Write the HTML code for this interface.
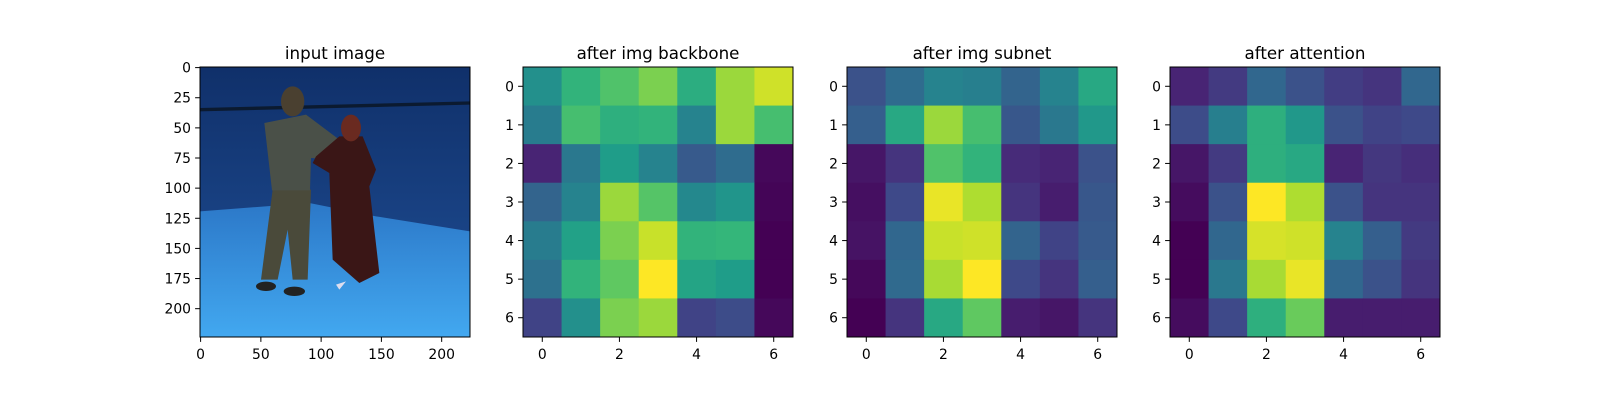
<!DOCTYPE html>
<html><head><meta charset="utf-8"><style>
body{margin:0;background:#fff;}
svg text{font-family:"DejaVu Sans","Liberation Sans",sans-serif;fill:#000;}
</style></head><body>
<svg id="fig" width="1600" height="400" viewBox="0 0 1600 400" xmlns="http://www.w3.org/2000/svg">
<rect width="1600" height="400" fill="#fff"/>
<g id="p1">
  <text x="335" y="59" font-size="16.7" text-anchor="middle">input image</text>
  <svg x="200" y="67" width="270" height="270" viewBox="32 22 810 810" preserveAspectRatio="none">
    <defs>
      <linearGradient id="wall" x1="0" y1="0" x2="0" y2="1"><stop offset="0" stop-color="#10306a"/><stop offset="1" stop-color="#1f4f96"/></linearGradient>
      <linearGradient id="floor" x1="0" y1="0" x2="0" y2="1"><stop offset="0" stop-color="#2c78c8"/><stop offset="1" stop-color="#42a8f0"/></linearGradient>
    </defs>
    <rect x="32" y="22" width="810" height="810" fill="url(#wall)"/>
    <polygon points="32,455 360,430 560,470 842,515 842,832 32,832" fill="url(#floor)"/>
    <polygon points="32,145 842,125 842,135 32,155" fill="#0b1a30"/>
    <polygon points="250,390 365,390 355,660 310,660 295,510 265,660 215,660" fill="#4a4a3a"/>
    <polygon points="225,190 350,165 510,285 505,305 365,295 362,392 248,392" fill="#4a5048"/>
    <ellipse cx="310" cy="125" rx="35" ry="45" fill="#4a4030"/>
    <ellipse cx="230" cy="680" rx="30" ry="14" fill="#222"/>
    <ellipse cx="315" cy="695" rx="32" ry="14" fill="#222"/>
    <polygon points="450,230 520,230 560,330 540,380 570,640 510,670 430,600 420,340 370,310 380,290" fill="#3a1616"/>
    <ellipse cx="485" cy="205" rx="30" ry="40" fill="#6a2a20"/>
    <polygon points="440,675 470,665 450,690" fill="#dde"/>
  </svg>
  <rect x="200" y="67" width="270" height="270" fill="none" stroke="#000" stroke-width="1"/>
  <g id="p1ticks"></g>
</g>
<g id="heatmaps"></g>
</svg>
<script>
const rowsIdx = [0,1,2,3,4,5,6];
const imgXTicks = [0,50,100,150,200];
const imgYTicks = [0,25,50,75,100,125,150,175,200];
const hmTicks = [0,2,4,6];
const titles = ["after img backbone","after img subnet","after attention"];
const backbone = [
 [0.50,0.65,0.72,0.80,0.62,0.85,0.93],
 [0.42,0.70,0.63,0.65,0.45,0.85,0.70],
 [0.10,0.40,0.55,0.45,0.28,0.35,0.02],
 [0.32,0.45,0.85,0.73,0.47,0.52,0.01],
 [0.42,0.57,0.80,0.92,0.65,0.66,0.00],
 [0.37,0.65,0.75,1.00,0.58,0.55,0.00],
 [0.20,0.50,0.80,0.85,0.20,0.23,0.02]];
const subnet = [
 [0.25,0.35,0.45,0.43,0.32,0.45,0.60],
 [0.30,0.60,0.85,0.70,0.27,0.40,0.53],
 [0.06,0.15,0.72,0.65,0.12,0.10,0.25],
 [0.04,0.22,0.97,0.88,0.15,0.08,0.27],
 [0.05,0.33,0.92,0.93,0.32,0.20,0.28],
 [0.02,0.34,0.87,1.00,0.22,0.15,0.30],
 [0.00,0.15,0.60,0.75,0.08,0.06,0.15]];
const attention = [
 [0.10,0.17,0.33,0.25,0.18,0.15,0.33],
 [0.23,0.43,0.63,0.53,0.25,0.20,0.22],
 [0.06,0.17,0.63,0.60,0.10,0.16,0.13],
 [0.03,0.25,1.00,0.88,0.25,0.15,0.15],
 [0.00,0.33,0.94,0.93,0.45,0.30,0.17],
 [0.00,0.40,0.87,0.97,0.33,0.25,0.15],
 [0.03,0.22,0.63,0.77,0.08,0.08,0.08]];
const NS="http://www.w3.org/2000/svg";
const VIR=[[68,1,84],[72,40,120],[62,74,137],[49,104,142],[38,130,142],[31,158,137],[53,183,121],[109,205,89],[180,222,44],[253,231,37]];
function viridis(t){t=Math.max(0,Math.min(1,t))*9;const i=Math.min(8,Math.floor(t)),f=t-i;const a=VIR[i],b=VIR[i+1];return `rgb(${a.map((v,k)=>Math.round(v+(b[k]-v)*f)).join(',')})`;}
function mk(tag,attrs,parent){const e=document.createElementNS(NS,tag);for(const k in attrs)e.setAttribute(k,attrs[k]);parent.appendChild(e);return e;}
const FS=13.9, TL=4.9, LBLY=359;
const p1=document.getElementById('p1ticks');
const ix=v=>200+(v+0.5)*270/224, iy=v=>67+(v+0.5)*270/224;
imgXTicks.forEach(v=>{
  const l=mk('line',{x1:ix(v),x2:ix(v),y1:337,y2:337+TL,stroke:'#000'},p1);
  
  
  const t=mk('text',{x:ix(v),y:LBLY,'font-size':FS,'text-anchor':'middle'},p1);t.textContent=v;
  
  
});
imgYTicks.forEach(v=>{
  const l=mk('line',{x1:200-TL,x2:200,y1:iy(v),y2:iy(v),stroke:'#000'},p1);
  
  
  const t=mk('text',{x:191,y:iy(v)+5,'font-size':FS,'text-anchor':'end'},p1);t.textContent=v;
  
  
});
const datasets=[backbone,subnet,attention];
const lefts=[523,847,1170];
const hm=document.getElementById('heatmaps');
datasets.forEach((data,p)=>{
  const L=lefts[p],T=67,W=270,H=270,cw=W/7,ch=H/7;
  const g=mk('g',{},hm);
  
  
  const tt=mk('text',{x:L+W/2,y:59,'font-size':16.7,'text-anchor':'middle'},g);tt.textContent=titles[p];
  
  
  const xs=c=>L+c*cw, ys=r=>T+r*ch;
  data.forEach((row,r)=>row.forEach((v,c)=>{
    const cell=mk('rect',{x:xs(c),y:ys(r),width:cw+0.5,height:ch+0.5,fill:viridis(v)},g);
    
    
  }));
  const fr=mk('rect',{x:L,y:T,width:W,height:H,fill:'none',stroke:'#000'},g);
  
  
  hmTicks.forEach(v=>{
    const x=xs(v+0.5);
    const l=mk('line',{x1:x,x2:x,y1:T+H,y2:T+H+TL,stroke:'#000'},g);
    
    
    const t=mk('text',{x:x,y:LBLY,'font-size':FS,'text-anchor':'middle'},g);t.textContent=v;
    
    
  });
  rowsIdx.forEach(v=>{
    const y=ys(v+0.5);
    const l=mk('line',{x1:L-TL,x2:L,y1:y,y2:y,stroke:'#000'},g);
    
    
    const t=mk('text',{x:L-9,y:y+5,'font-size':FS,'text-anchor':'end'},g);t.textContent=v;
    
    
  });
});
</script>
</body></html>
